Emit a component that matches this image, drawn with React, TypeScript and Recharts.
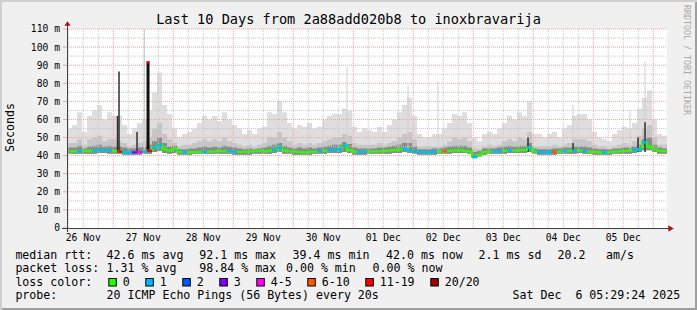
import React from 'react';
import { ComposedChart, Area, Line, Scatter, XAxis, YAxis, ReferenceLine, CartesianGrid } from 'recharts';

// ---- data (2-hour samples starting 26 Nov 05:30) ----
const smokeHi = [
  55, 57, 64, 53, 62, 65, 68, 60, 64, 62,
  62, 57, 52, 55, 58, 60, 65, 75, 86, 68,
  63, 55, 50, 52, 53, 55, 58, 62, 60, 62,
  59, 64, 60, 57, 55, 52, 54, 52, 55, 56,
  64, 63, 70, 64, 58, 55, 57, 56, 58, 55,
  56, 60, 62, 63, 63, 66, 65, 56, 53, 55,
  54, 53, 56, 53, 57, 60, 64, 68, 72, 62,
  52, 50, 50, 52, 52, 55, 58, 63, 62, 64,
  58, 50, 48, 52, 53, 52, 55, 58, 62, 60,
  64, 62, 70, 52, 52, 50, 52, 53, 50, 55,
  57, 62, 63, 63, 60, 53, 50, 49, 48, 52,
  54, 56, 55, 58, 66, 72, 76, 60, 52, 51,
];
const smokeMid = [
  47, 47, 49, 46, 49, 50, 51, 48, 49, 49,
  48, 47, 45, 46, 47, 48, 50, 55, 58, 52,
  49, 47, 45, 46, 46, 47, 48, 49, 48, 49,
  48, 50, 48, 47, 46, 45, 46, 45, 46, 47,
  50, 50, 53, 50, 48, 46, 47, 46, 47, 46,
  47, 48, 49, 50, 50, 52, 51, 47, 46, 46,
  46, 46, 47, 46, 47, 48, 50, 52, 53, 49,
  45, 45, 45, 45, 45, 46, 48, 50, 49, 50,
  48, 44, 44, 45, 46, 45, 46, 48, 49, 48,
  50, 49, 53, 45, 45, 45, 45, 46, 45, 46,
  47, 49, 49, 49, 48, 46, 45, 45, 44, 45,
  46, 47, 46, 48, 51, 55, 57, 50, 46, 46,
];
const smokeDark = [
  44.5, 44.5, 45.5, 44, 45, 45.5, 46, 45, 45.5, 45,
  45, 44.5, 44, 44, 44.5, 45, 46, 48, 50, 47,
  45, 45.5, 43.5, 43.5, 44, 44, 44.5, 45, 44.5, 45,
  44.5, 45.5, 45, 44.5, 44, 43.5, 44, 43.5, 44, 44.5,
  45.5, 46, 47, 45.5, 44.5, 44, 44.5, 44, 44.5, 44,
  44.5, 45, 45.5, 46, 46, 47.5, 46.5, 44.5, 44, 44,
  44, 44, 44.5, 44.5, 45, 45.5, 46, 47, 47, 45,
  43.5, 43.5, 43.5, 44, 44, 44.5, 45, 45.5, 45.5, 45.5,
  44.5, 42, 42.5, 44, 44, 44, 44.5, 45, 45.5, 45,
  45.5, 45.5, 47, 44, 43.5, 43.5, 43.5, 44, 44, 44.5,
  44.5, 45, 45, 45, 44.5, 44, 43.5, 43.5, 43.5, 44,
  44, 44.5, 44.5, 45, 46, 49, 50, 46, 44.5, 44,
];
const smokeLo = [
  41, 41, 41, 41, 41, 41, 41.5, 41.5, 41, 41,
  41, 40.5, 40.5, 40.5, 40.5, 41, 41, 42, 42.5, 41.5,
  41, 41.5, 40.5, 40.5, 40.5, 41, 41, 41, 41, 41,
  41, 41, 41, 40.5, 40.5, 40.5, 40.5, 41, 41, 41,
  41, 41.5, 42, 41, 41, 40.5, 40.5, 40.5, 40.5, 41,
  41, 41, 41.5, 41.5, 41.5, 42, 41.5, 40.5, 40.5, 40.5,
  41, 41, 41, 41, 41, 41.5, 41.5, 42, 41.5, 41,
  40.5, 40.5, 40.5, 40.5, 41, 41, 41, 41.5, 41.5, 41.5,
  41, 38.5, 39.5, 40.5, 41, 41, 41, 41, 41.5, 41.5,
  41.5, 41.5, 42, 41, 40.5, 40.5, 40.5, 40.5, 41, 41,
  41, 41, 41.5, 41, 41, 40.5, 40.5, 40.5, 40.5, 41,
  41, 41, 41, 41.5, 42, 43, 43, 42, 41, 41,
];
const medianRtt = [
  42.4, 42.5, 42.3, 42.6, 42.5, 42.8, 43.0, 43.2, 42.8, 42.5,
  42.2, 41.8, 41.6, 41.8, 42.0, 42.3, 42.6, 44.5, 45.6, 43.5,
  42.8, 43.8, 42.0, 41.8, 41.9, 42.0, 42.1, 42.0, 42.2, 42.3,
  42.6, 42.5, 42.4, 42.2, 42.0, 42.2, 42.3, 42.5, 42.6, 42.4,
  42.8, 43.3, 44.4, 42.8, 42.3, 42.2, 42.0, 41.8, 42.0, 42.2,
  42.5, 42.6, 43.0, 43.2, 43.5, 45.5, 43.0, 42.2, 42.0, 42.2,
  42.3, 42.4, 42.5, 42.6, 42.8, 43.0, 43.4, 43.8, 43.0, 42.3,
  42.0, 41.8, 41.8, 42.0, 42.2, 42.4, 42.6, 42.8, 43.0, 42.6,
  42.4, 39.4, 40.5, 42.0, 42.2, 42.3, 42.5, 42.6, 42.8, 42.8,
  43.0, 43.0, 44.5, 42.2, 42.0, 41.8, 41.8, 42.0, 42.2, 42.4,
  42.6, 42.6, 42.8, 42.5, 42.2, 42.0, 41.8, 41.8, 42.0, 42.2,
  42.4, 42.6, 42.8, 43.0, 43.5, 47.5, 45.0, 43.5, 42.6, 42.5,
];
const lossCount = [
  0, 0, 1, 0, 0, 1, 1, 1, 1, 0,
  11, 1, 1, 3, 4, 1, 11, 1, 1, 0,
  0, 0, 0, 1, 0, 0, 0, 1, 0, 0,
  0, 0, 1, 1, 0, 0, 0, 0, 0, 0,
  0, 1, 1, 0, 0, 0, 0, 0, 0, 0,
  1, 0, 1, 1, 1, 1, 0, 0, 1, 1,
  0, 0, 0, 0, 0, 0, 0, 1, 1, 1,
  1, 1, 1, 1, 0, 6, 0, 0, 0, 0,
  0, 1, 0, 0, 0, 1, 1, 0, 1, 0,
  0, 0, 1, 0, 1, 1, 1, 6, 0, 1,
  0, 1, 0, 1, 0, 0, 0, 1, 0, 0,
  0, 0, 0, 1, 1, 1, 0, 0, 0, 0,
];

// thin spikes (hour since 26 Nov 00:00, top value in ms)
const lightSpikeHours = [36.5, 117.5, 141.9, 153.9, 207.9, 230.7, 236.7];
const lightSpikeTops = [110, 89, 79, 81, 68, 65, 92];
const darkSpikeHours = [25.7, 26.3, 33.5, 189.9, 207.9, 233.9, 236.7];
const darkSpikeTops = [62, 86.5, 53, 50, 47, 50, 58.5];
const maxLossHour = 37.9;
const maxLossTop = 92.1;

const xTickHours = [12, 36, 60, 84, 108, 132, 156, 180, 204, 228];
const xTickLabels = ['26 Nov', '27 Nov', '28 Nov', '29 Nov', '30 Nov', '01 Dec', '02 Dec', '03 Dec', '04 Dec', '05 Dec'];
const yTicks = [0, 10, 20, 30, 40, 50, 60, 70, 80, 90, 100, 110];

const lossLabels = ['0', '1', '2', '3', '4-5', '6-10', '11-19', '20/20'];
const lossColors = ['#26ff00', '#00b8ff', '#0059ff', '#7e00ff', '#ff00ff', '#ff5500', '#ff0000', '#a10000'];

const titleText = 'Last 10 Days from 2a88add020b8 to inoxbravarija';
const rttLine = [['median rtt:', 15.4], ['42.6 ms avg', 106.6], ['92.1 ms max', 199.3], ['39.4 ms min', 292.6], ['42.0 ms now', 386], ['2.1 ms sd', 478.6], ['20.2', 557.6], ['am/s', 606]];
const lossLine = [['packet loss:', 15.4], ['1.31 % avg', 106.6], ['98.84 % max', 199.3], ['0.00 % min', 286], ['0.00 % now', 372.6]];
const probeLine = [['probe:', 15.4], ['20 ICMP Echo Pings (56 Bytes) every 20s', 106.6], ['Sat Dec  6 05:29:24 2025', 512.6]];

// ---- helpers ----
const X_MIN = 5.49;
const X_MAX = 245.49;
const START = 5.5;
const STEP = 2;

function lossColor(n: number): string {
  if (n <= 0) return lossColors[0];
  if (n === 1) return lossColors[1];
  if (n === 2) return lossColors[2];
  if (n === 3) return lossColors[3];
  if (n <= 5) return lossColors[4];
  if (n <= 10) return lossColors[5];
  if (n <= 19) return lossColors[6];
  return lossColors[7];
}

const rows: any[] = smokeHi.map((hi, i) => ({
  t: START + STEP * i,
  band: [smokeLo[i], hi],
  midBand: [smokeLo[i], smokeMid[i]],
  darkBand: [smokeLo[i], smokeDark[i]],
  med: medianRtt[i],
  loss: lossCount[i],
}));
rows.push({ ...rows[rows.length - 1], t: START + STEP * smokeHi.length });

const lossMarks = rows
  .slice(0, smokeHi.length)
  .filter((r) => r.loss > 0)
  .map((r) => ({ t: r.t + STEP / 2, med: r.med, loss: r.loss }));

const minorX: number[] = [];
const majorX: number[] = [];
for (let h = 6; h < X_MAX; h += 6) {
  if (h % 24 === 0) majorX.push(h);
  else minorX.push(h);
}
const minorY: number[] = [];
const majorY: number[] = [];
for (let v = 5; v <= 110; v += 5) {
  if (v % 10 === 0) majorY.push(v);
  else minorY.push(v);
}

const MONO = "'DejaVu Sans Mono', monospace";

const LossMark = (props: any) => {
  const { cx, cy, payload } = props;
  if (cx == null || cy == null) return null;
  return <rect x={cx - 2.5} y={cy - 1.2} width={5} height={2.4} fill={lossColor(payload.loss)} />;
};

const xTickFmt = (v: number) => {
  const idx = xTickHours.indexOf(v);
  return idx >= 0 ? xTickLabels[idx] : '';
};
const yTickFmt = (v: number) => (v === 0 ? '0' : `${v} m`);

export default function App() {
  let swX = 108.3;
  const swatches = lossLabels.map((lab, i) => {
    const x = swX;
    swX += 30 + 7 * lab.length;
    return (
      <g key={lab}>
        <rect x={x + 0.5} y={278.5} width={7.5} height={7.5} fill={lossColors[i]} stroke="#000" strokeWidth={1} />
        <text x={x + 14.4} y={286} fontSize={11.6} fontFamily={MONO} fill="#000">{lab}</text>
      </g>
    );
  });

  const lineTexts = (items: any[], y: number, key: string) =>
    items.map(([s, x]) => (
      <text key={key + x} x={x} y={y} fontSize={11.6} fontFamily={MONO} fill="#000" style={{ whiteSpace: 'pre' }}>
        {s}
      </text>
    ));

  return (
    <div
      style={{
        position: 'absolute',
        left: 0,
        top: 0,
        width: 697,
        height: 310,
        background: '#f0f0f0',
        boxShadow: 'inset 2px 2px 0 #cfcfcf, inset -2px -2px 0 #9e9e9e',
        overflow: 'hidden',
      }}
    >
      <div style={{ position: 'absolute', left: 0, top: 0 }}>
        <ComposedChart width={697} height={310} data={rows} margin={{ top: 29, right: 30, bottom: 52, left: 0 }}>
          <CartesianGrid fill="#ffffff" horizontal={false} vertical={false} stroke="none" />
          <XAxis
            dataKey="t"
            type="number"
            domain={[X_MIN, X_MAX]}
            allowDataOverflow
            ticks={xTickHours}
            interval={0}
            tickFormatter={xTickFmt}
            tickLine={false}
            axisLine={false}
            tickSize={4}
            tickMargin={2}
            height={30}
            tick={{ fontSize: 9.7, fontFamily: MONO, fill: '#000' }}
          />
          <YAxis
            type="number"
            domain={[0, 110]}
            allowDataOverflow
            ticks={yTicks}
            interval={0}
            tickFormatter={yTickFmt}
            width={67}
            axisLine={false}
            tickLine={{ stroke: '#f4a0a0' }}
            tickSize={4}
            tickMargin={3}
            tick={{ fontSize: 9.7, fontFamily: MONO, fill: '#000' }}
          />
          <Area dataKey="band" type="stepAfter" stroke="none" fill="#dedede" fillOpacity={1} isAnimationActive={false} />
          <Area dataKey="midBand" type="stepAfter" stroke="none" fill="#c6c6c6" fillOpacity={1} isAnimationActive={false} />
          <Area dataKey="darkBand" type="stepAfter" stroke="none" fill="#8a8a8a" fillOpacity={1} isAnimationActive={false} />
          {minorY.map((v) => (
            <ReferenceLine key={'my' + v} y={v} stroke="#c8c8c8" strokeDasharray="1 1" />
          ))}
          {minorX.map((v) => (
            <ReferenceLine key={'mx' + v} x={v} stroke="#c8c8c8" strokeDasharray="1 1" />
          ))}
          {majorY.map((v) => (
            <ReferenceLine key={'My' + v} y={v} stroke="#f4a0a0" strokeDasharray="1 1" />
          ))}
          {majorX.map((v) => (
            <ReferenceLine key={'Mx' + v} x={v} stroke="#f4a0a0" strokeDasharray="1 1" />
          ))}
          {lightSpikeHours.map((h, i) => (
            <ReferenceLine key={'ls' + i} segment={[{ x: h, y: 42 }, { x: h, y: lightSpikeTops[i] }]} stroke="#cfcfcf" strokeWidth={1} />
          ))}
          {darkSpikeHours.map((h, i) => (
            <ReferenceLine key={'ds' + i} segment={[{ x: h, y: 42 }, { x: h, y: darkSpikeTops[i] }]} stroke="#303030" strokeWidth={1.5} />
          ))}
          <ReferenceLine segment={[{ x: maxLossHour, y: 42 }, { x: maxLossHour, y: maxLossTop }]} stroke="#111" strokeWidth={3} />
          <ReferenceLine segment={[{ x: maxLossHour, y: maxLossTop - 1.2 }, { x: maxLossHour, y: maxLossTop }]} stroke="#ff0000" strokeWidth={3} />
          <Line dataKey="med" type="stepAfter" stroke={lossColors[0]} strokeWidth={2.2} dot={false} isAnimationActive={false} />
          <Scatter data={lossMarks} dataKey="med" shape={<LossMark />} isAnimationActive={false} />
        </ComposedChart>
      </div>
      <svg width={697} height={310} style={{ position: 'absolute', left: 0, top: 0, pointerEvents: 'none' }}>
        {/* axes and arrows */}
        <line x1={67.5} y1={25} x2={67.5} y2={232} stroke="#404040" strokeWidth={1} />
        <line x1={62} y1={228.5} x2={669} y2={228.5} stroke="#404040" strokeWidth={1} />
        <polygon points="64.3,25.7 70.7,25.7 67.5,21.2" fill="#a01c1c" />
        <polygon points="668.3,225.3 668.3,231.7 673.8,228.5" fill="#a01c1c" />
        {/* title */}
        <text x={348.5} y={24} textAnchor="middle" fontSize={13.6} fontFamily={MONO} fill="#000">{titleText}</text>
        {/* y unit */}
        <text x={10} y={127.5} transform="rotate(-90 10 127.5)" textAnchor="middle" dominantBaseline="central" fontSize={11.6} fontFamily={MONO} fill="#000">Seconds</text>
        {/* watermark */}
        <text x={686.5} y={60} transform="rotate(90 686.5 60)" textAnchor="middle" dominantBaseline="central" fontSize={8.3} fontFamily={MONO} fill="#a8a8a8">RRDTOOL / TOBI OETIKER</text>
        {/* legend */}
        {lineTexts(rttLine, 258.6, 'r')}
        {lineTexts(lossLine, 271.7, 'l')}
        <text x={15.4} y={286} fontSize={11.6} fontFamily={MONO} fill="#000">loss color:</text>
        {swatches}
        {lineTexts(probeLine, 299.4, 'p')}
      </svg>
    </div>
  );
}
